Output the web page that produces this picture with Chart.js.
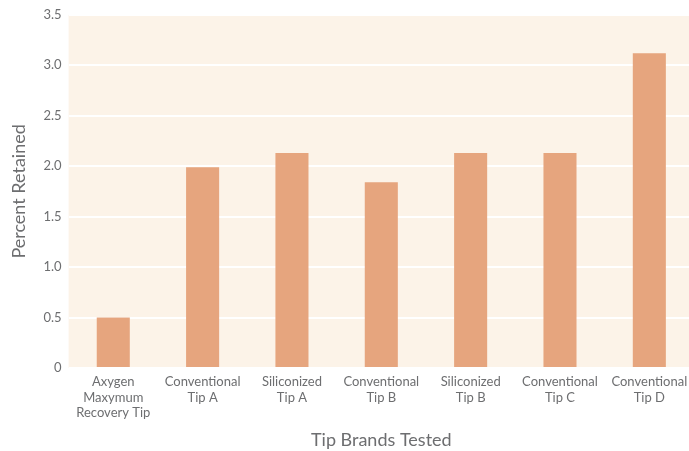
<!DOCTYPE html>
<html>
<head>
<meta charset="utf-8">
<script src="https://cdn.jsdelivr.net/npm/chart.js@4"></script>
<style>
  html, body { margin: 0; padding: 0; overflow: hidden; background: #fff; }
  #wrap { position: relative; width: 694px; height: 451px; }
</style>
</head>
<body>
<div id="wrap"><canvas id="myChart"></canvas></div>
<script>
var categories = [
  ['Axygen', 'Maxymum', 'Recovery Tip'],
  ['Conventional', 'Tip A'],
  ['Siliconized', 'Tip A'],
  ['Conventional', 'Tip B'],
  ['Siliconized', 'Tip B'],
  ['Conventional', 'Tip C'],
  ['Conventional', 'Tip D']
];
var percentRetained = [0.5, 1.99, 2.13, 1.84, 2.13, 2.13, 3.12];
var yTickLabels = ['0', '0.5', '1.0', '1.5', '2.0', '2.5', '3.0', '3.5'];

var textGrey = '#6d6e70';

// cream fill behind the plot area
var plotBackground = {
  id: 'plotBackground',
  beforeDraw: function(chart) {
    var a = chart.chartArea, ctx = chart.ctx;
    ctx.save();
    ctx.fillStyle = '#fcf3e8';
    ctx.fillRect(a.left, a.top, a.right - a.left, a.bottom - a.top);
    ctx.restore();
  }
};

document.addEventListener('DOMContentLoaded', function(){
  var ctx = document.getElementById('myChart').getContext('2d');
  var chart = new Chart(ctx, {
    type: 'bar',
    data: {
      labels: categories,
      datasets: [{
        label: 'Percent Retained',
        data: percentRetained,
        backgroundColor: '#e6a57e',
        borderWidth: 0,
        barPercentage: 0.37,
        categoryPercentage: 1.0
      }]
    },
    options: {
      responsive: true,
      maintainAspectRatio: false,
      animation: false,
      layout: { padding: { top: 14, right: 0, left: 0, bottom: 0 } },
      plugins: {
        legend: { display: false },
        tooltip: { enabled: false }
      },
      scales: {
        x: {
          grid: { display: false },
          border: { display: false },
          ticks: {
            color: textGrey,
            font: { family: 'Lato', size: 13, lineHeight: 1.2 },
            padding: -2,
            maxRotation: 0,
            autoSkip: false
          },
          title: {
            display: true,
            text: 'Tip Brands Tested',
            color: textGrey,
            font: { family: 'Lato', size: 18 },
            padding: { top: 1, bottom: 0 }
          },
          afterFit: function(scale) { scale.height = 83; }
        },
        y: {
          min: 0,
          max: 3.5,
          grid: { color: '#ffffff', lineWidth: 2, drawTicks: false },
          border: { display: false },
          ticks: {
            stepSize: 0.5,
            color: textGrey,
            font: { family: 'Lato', size: 13 },
            padding: 7,
            callback: function(value, index) { return yTickLabels[index]; }
          },
          title: {
            display: true,
            text: 'Percent Retained',
            color: textGrey,
            font: { family: 'Lato', size: 18 },
            padding: { top: 8, bottom: 0 }
          },
          afterFit: function(scale) { scale.width = 68.6; }
        }
      }
    },
    plugins: [plotBackground]
  });
});
</script>
</body>
</html>
